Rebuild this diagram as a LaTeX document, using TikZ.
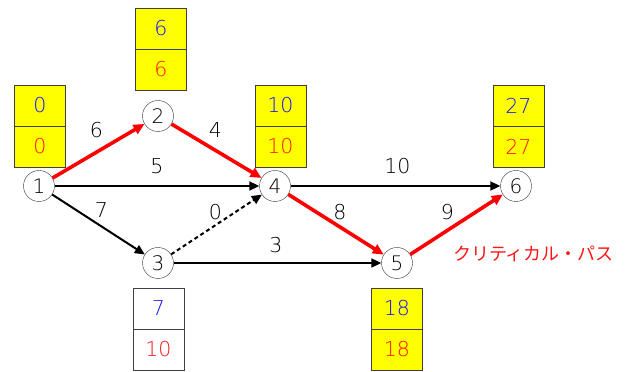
\documentclass[tikz,border=0pt]{standalone}
\usepackage{fontspec}
\setmainfont{Noto Sans CJK JP}
\newfontfamily\digitfont{DejaVu Sans ExtraLight}
\usetikzlibrary{arrows.meta,positioning}
\definecolor{earlyblue}{RGB}{20,20,255}
\definecolor{latered}{RGB}{255,20,20}
\definecolor{critred}{RGB}{255,0,0}
\definecolor{boxyellow}{RGB}{255,255,0}

\begin{document}
\begin{tikzpicture}[
    x=1pt,
    y=1pt,
    event/.style={circle, draw=black!80, fill=white, thin, minimum size=31pt, inner sep=0pt, font=\digitfont\fontsize{20}{20}\selectfont, text=black},
    cell/.style={rectangle, draw=black!75, fill=boxyellow, thin, minimum width=51pt, minimum height=41pt, inner sep=0pt, font=\digitfont\fontsize{20.5}{20.5}\selectfont},
    wcell/.style={cell, fill=white},
    act/.style={-{Triangle[length=10pt,width=9pt]}, line width=2pt, black},
    critact/.style={-{Triangle[length=11pt,width=10pt]}, line width=3.6pt, critred},
    dummyact/.style={act, dash pattern=on 4pt off 3pt},
    lab/.style={font=\digitfont\fontsize{20.5}{20.5}\selectfont, text=black}
  ]
    \useasboundingbox (0,0) rectangle (635,372);

    \node[event] (n1) at (39,186) {1};
    \node[event] (n2) at (158,256) {2};
    \node[event] (n3) at (158,109) {3};
    \node[event] (n4) at (275,186) {4};
    \node[event] (n5) at (397,109) {5};
    \node[event] (n6) at (516,186) {6};

    \node[cell, text=earlyblue] (e1) at (40,266.5) {0};
    \node[cell, text=latered] (l1) at (40,225.5) {0};
    \node[cell, text=earlyblue] (e2) at (161,343.5) {6};
    \node[cell, text=latered] (l2) at (161,302.5) {6};
    \node[wcell, text=earlyblue] (e3) at (158.5,63.5) {7};
    \node[wcell, text=latered] (l3) at (158.5,22.5) {10};
    \node[cell, text=earlyblue] (e4) at (280.5,266.5) {10};
    \node[cell, text=latered] (l4) at (280.5,225.5) {10};
    \node[cell, text=earlyblue] (e5) at (397,63.5) {18};
    \node[cell, text=latered] (l5) at (397,22.5) {18};
    \node[cell, text=earlyblue] (e6) at (518.5,266.5) {27};
    \node[cell, text=latered] (l6) at (518.5,225.5) {27};

    \draw[act] (n1) -- (n4);
    \draw[act] (n1) -- (n3);
    \draw[act] (n4) -- (n6);
    \draw[act] (n3) -- (n5);
    \draw[dummyact] (n3) -- (n4);
    \draw[critact] (n1) -- (n2);
    \draw[critact] (n2) -- (n4);
    \draw[critact] (n4) -- (n5);
    \draw[critact] (n5) -- (n6);

    \node[lab] at (96.5,242) {6};
    \node[lab] at (215.5,242) {4};
    \node[lab] at (157,206) {5};
    \node[lab] at (397.5,206) {10};
    \node[lab] at (101.5,162) {7};
    \node[lab] at (215.5,159.5) {0};
    \node[lab] at (276,127) {3};
    \node[lab] at (340,159.5) {8};
    \node[lab] at (447.5,159.5) {9};
    \node[font=\fontsize{18}{18}\selectfont, text=latered] (cp) at (533.5,118) {クリティカル・パス};
  \end{tikzpicture}
\end{document}
